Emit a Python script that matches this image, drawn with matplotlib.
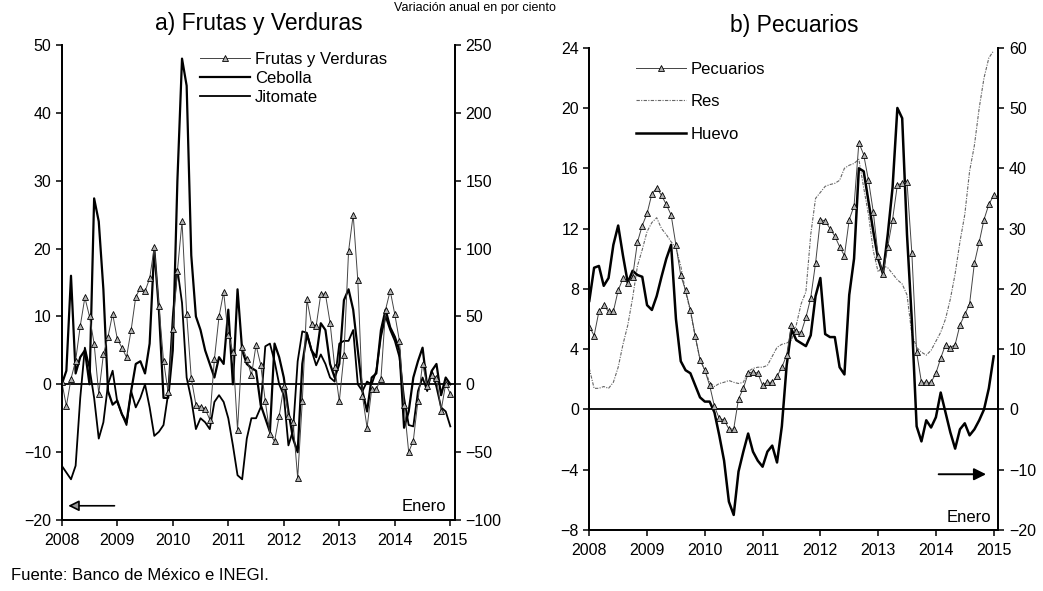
import numpy as np
import matplotlib
matplotlib.use("Agg")
import matplotlib.pyplot as plt
from matplotlib.lines import Line2D

plt.rcParams['font.family'] = ['Liberation Sans', 'DejaVu Sans']

years = ['2008', '2009', '2010', '2011', '2012', '2013', '2014', '2015']

# a) Frutas y Verduras, variacion anual (%) ene-2008 .. ene-2015
frutas_verduras = [
    0.4, -3.2, 0.8, 3.5, 8.6, 12.8, 10.0, 6.0, -1.4, 4.4, 7.0, 10.4,
    6.7, 5.4, 4.0, 8.0, 12.9, 14.2, 13.7, 15.6, 20.2, 11.6, 3.5, -1.2,
    8.1, 16.7, 24.0, 10.4, 0.9, -3.0, -3.3, -3.6, -5.2, 3.7, 10.0, 13.6,
    7.2, 4.8, -6.7, 5.5, 3.8, 1.3, 5.8, 2.9, -2.5, -7.3, -8.4, -4.7,
    -0.3, -4.6, -5.5, -13.8, -2.5, 12.5, 8.9, 8.6, 13.3, 13.3, 9.1, 2.6,
    -2.5, 4.3, 19.6, 25.0, 15.3, -1.7, -6.4, -0.7, -0.7, 0.8, 11.0, 13.8,
    10.3, 6.4, -3.0, -10.0, -8.3, -2.4, 3.0, -0.2, 1.3, 1.0, -3.9, 0.1,
    -1.4]
cebolla = [
    0, 10, 80, 8, 20, 25, 0, 137, 120, 70, -5, -15,
    -12, -22, -28, -5, 15, 17, 8, 30, 100, 55, -10, -10,
    25, 150, 240, 220, 95, 50, 40, 25, 15, 5, 20, 15,
    55, 0, 70, 25, 15, 12, 10, -15, -25, -35, 30, 20,
    5, -20, -40, -50, 15, 37, 25, 20, 45, 40, 15, 5,
    15, 62, 70, 55, 25, -5, -20, 5, 8, 40, 55, 42,
    35, 25, -32, -20, 5, 17, 27, -2, 10, 15, -8, 5,
    0]
jitomate = [
    -60, -65, -70, -60, -10, 27, 12, -10, -40, -28, 0, 10,
    -13, -22, -30, -5, -17, -10, 0, -17, -38, -35, -30, -7,
    50, 85, 60, 5, -11, -33, -25, -28, -33, -13, -8, -13,
    -25, -45, -67, -70, -40, -25, -25, -17, 28, 30, 17, 0,
    -8, -45, -34, 17, 39, 38, 25, 14, 22, 15, 5, 2,
    30, 32, 32, 40, 0, -5, 2, 0, 10, 35, 50, 40,
    32, 20, -10, -30, -31, -5, 5, -5, 10, -2, -17, -20,
    -31]

# b) Pecuarios
pecuarios = [
    5.5, 4.9, 6.5, 6.9, 6.5, 6.5, 7.9, 8.7, 8.4, 8.8, 11.1, 12.2,
    13.0, 14.3, 14.7, 14.2, 13.6, 12.9, 10.9, 8.9, 7.9, 6.6, 4.9, 3.3,
    2.6, 1.6, 0.2, -0.6, -0.7, -1.3, -1.3, 0.7, 1.4, 2.4, 2.5, 2.4,
    1.6, 1.8, 1.8, 2.2, 2.8, 3.6, 5.6, 5.2, 5.1, 6.1, 7.4, 9.7,
    12.6, 12.5, 12.0, 11.5, 10.8, 10.2, 12.6, 13.5, 17.7, 16.9, 15.2, 13.1,
    10.2, 9.0, 10.8, 12.6, 14.9, 15.0, 15.1, 10.4, 3.8, 1.8, 1.8, 1.8,
    2.4, 3.4, 4.3, 4.1, 4.3, 5.6, 6.3, 7.0, 9.7, 11.1, 12.6, 13.6,
    14.2]
res = [
    6.8, 3.5, 3.5, 3.8, 3.5, 4.5, 7, 10.8, 14, 18.5, 23.8, 26.5,
    29.5, 31, 31.8, 30, 29, 27.8, 26.8, 23.8, 19.5, 16.3, 12, 8.3,
    6.5, 4.5, 3.8, 4.3, 4.5, 4.8, 4.5, 4.3, 4.5, 6.3, 6.8, 7,
    7, 7.3, 8.8, 10.3, 10.8, 11, 11.5, 14, 17.5, 19.5, 29, 35,
    36, 37, 37.3, 37.5, 38, 40, 40.5, 40.8, 41.5, 36.8, 32.3, 26.3,
    22.8, 23.8, 23.5, 22.5, 21.5, 20.8, 19, 12.5, 10.3, 9.5, 9, 9.8,
    11.3, 12.8, 15, 18.3, 22.5, 27.8, 32.3, 39.5, 43.8, 50, 55, 58.3,
    59.5]
huevo = [
    18, 23.5, 23.8, 20.5, 21.8, 27.3, 30.5, 25.5, 21, 23, 22.3, 22,
    17.3, 16.5, 18.8, 22, 25, 27.3, 15, 8, 6.5, 6, 4, 2,
    1.3, 1.3, -0.5, -4.3, -8.5, -15.3, -17.5, -10.3, -7, -4, -7, -8.5,
    -9.5, -7, -6, -8.8, -2.8, 7.3, 13.3, 11.5, 11, 10.5, 12.3, 18.8,
    21.8, 12.5, 12, 12, 7, 5.8, 19, 25, 40, 39.5, 34.5, 29.5,
    25, 22.5, 29, 36.8, 50, 48.3, 29, 14.8, -2.8, -5.3, -1.8, -3,
    -1.3, 2.8, -0.5, -3.8, -6.5, -3.3, -2.3, -4.3, -3.3, -1.8, 0, 3.5,
    8.8]

x = np.arange(len(frutas_verduras))
xt = np.arange(0, len(x), 12)

tri = dict(marker='^', markersize=5, markerfacecolor='#b0b0b0',
           markeredgecolor='black', markeredgewidth=0.6)


def style_axes(ax, ax2, title):
    ax.set_xlim(0, 85)
    ax.set_xticks(xt)
    ax.set_xticklabels(years)
    ax.spines['top'].set_visible(False)
    ax2.spines['top'].set_visible(False)
    for a in (ax, ax2):
        for s in a.spines.values():
            s.set_linewidth(1.3)
        a.tick_params(labelsize=11.5, length=4, width=1.1)
    ax.tick_params(axis='x', pad=5)
    ax.set_title(title, fontsize=16.5, pad=11)
    ax.axhline(0, color='black', lw=1.3, zorder=1)


fig = plt.figure(figsize=(10.43, 5.91), dpi=100)

# ---- panel a
ax = fig.add_axes([0.0592, 0.1201, 0.377, 0.8037])
ax2 = ax.twinx()
ax.set_ylim(-20, 50)
ax.set_yticks(np.arange(-20, 51, 10))
ax2.set_ylim(-100, 250)
ax2.set_yticks(np.arange(-100, 251, 50))
ax.set_zorder(ax2.get_zorder() + 1)
ax.patch.set_visible(False)

ax2.plot(x, cebolla, color='black', lw=1.6)
ax2.plot(x, jitomate, color='black', lw=1.3)
ax.plot(x, frutas_verduras, color='#444444', lw=0.7, **tri)
style_axes(ax, ax2, 'a) Frutas y Verduras')

handles = [Line2D([], [], color='#444444', lw=0.7, **tri),
           Line2D([], [], color='black', lw=1.6),
           Line2D([], [], color='black', lw=1.3)]
ax.legend(handles, ['Frutas y Verduras', 'Cebolla', 'Jitomate'],
          loc='upper left', bbox_to_anchor=(0.335, 1.0), frameon=False,
          fontsize=12, handlelength=3.0, handletextpad=0.3,
          labelspacing=0.25, numpoints=1, borderaxespad=0)

ax.annotate('', xy=(0.8, -17.9), xytext=(12, -17.9),
            arrowprops=dict(arrowstyle='-|>', color='black', lw=1.2,
                            mutation_scale=16, fc='#999999'))
ax.text(83.2, -18.0, 'Enero', ha='right', va='center', fontsize=12)

# ---- panel b
bx = fig.add_axes([0.565, 0.1032, 0.3923, 0.8161])
bx2 = bx.twinx()
bx.set_ylim(-8, 24)
bx.set_yticks(np.arange(-8, 25, 4))
bx2.set_ylim(-20, 60)
bx2.set_yticks(np.arange(-20, 61, 10))
bx.set_zorder(bx2.get_zorder() + 1)
bx.patch.set_visible(False)

bx2.plot(x, res, color='#666666', lw=0.8, ls=(0, (3, 1.2, 1, 1.2)))
bx2.plot(x, huevo, color='black', lw=1.8)
bx.plot(x, pecuarios, color='#444444', lw=0.7, **tri)
style_axes(bx, bx2, 'b) Pecuarios')

handles = [Line2D([], [], color='#444444', lw=0.7, **tri),
           Line2D([], [], color='#666666', lw=0.8, ls=(0, (3, 1.2, 1, 1.2))),
           Line2D([], [], color='black', lw=1.8)]
bx.legend(handles, ['Pecuarios', 'Res', 'Huevo'],
          loc='upper left', bbox_to_anchor=(0.097, 0.985), frameon=False,
          fontsize=12, handlelength=3.0, handletextpad=0.3,
          labelspacing=1.05, numpoints=1, borderaxespad=0)

bx.annotate('', xy=(83, -4.3), xytext=(72, -4.3),
            arrowprops=dict(arrowstyle='-|>', color='black', lw=1.4,
                            mutation_scale=18))
bx.text(83.5, -7.2, 'Enero', ha='right', va='center', fontsize=12)

fig.text(0.455, 0.997, 'Variación anual en por ciento', ha='center',
         va='top', fontsize=9)
fig.text(0.011, 0.027, 'Fuente: Banco de México e INEGI.', fontsize=12,
         va='center')

fig.savefig('out.png', dpi=100)
